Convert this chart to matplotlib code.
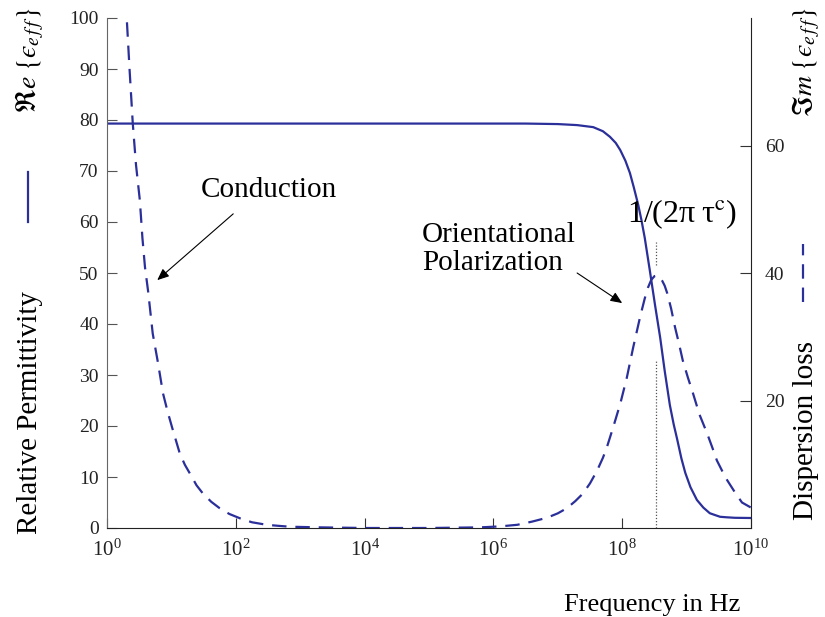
import numpy as np
import matplotlib
matplotlib.use("Agg")
import matplotlib.pyplot as plt
from matplotlib.ticker import FixedLocator, LogFormatterSciNotation, NullLocator

# ---- data (frequency as log10 exponent) ----
real_exp = [0.0, 6.5, 7.0, 7.3, 7.55, 7.7, 7.81, 7.9, 7.97, 8.05, 8.12, 8.18,
            8.25, 8.30, 8.35, 8.43, 8.51, 8.59, 8.66, 8.74, 8.80, 8.85, 8.92,
            8.98, 9.06, 9.16, 9.26, 9.36, 9.45, 9.52, 9.62, 9.75, 10.0]
real_val = [79.3, 79.3, 79.2, 79.0, 78.6, 77.8, 76.7, 75.5, 74.1, 72.0, 69.6,
            66.8, 63.3, 60.3, 56.9, 50.4, 43.7, 37.3, 30.8, 24.1, 20.3, 17.6,
            13.6, 10.8, 8.0, 5.5, 4.0, 2.9, 2.5, 2.2, 2.1, 2.0, 1.96]

loss_exp = [0.25, 0.31, 0.35, 0.40, 0.45, 0.51, 0.55, 0.59, 0.64, 0.71, 0.79,
            0.87, 0.94, 1.01, 1.13, 1.21, 1.29, 1.39, 1.49, 1.62, 1.75, 1.90,
            2.07, 2.25, 2.48, 2.65, 2.84, 3.3, 4.0, 5.0, 5.8, 6.1, 6.37, 6.6,
            6.83, 7.0, 7.14, 7.27, 7.39, 7.5, 7.61, 7.70, 7.76, 7.86, 7.97,
            8.07, 8.17, 8.28, 8.35, 8.40, 8.45, 8.50, 8.54, 8.58, 8.62, 8.66,
            8.70, 8.76, 8.82, 8.88, 8.94, 9.02, 9.10, 9.20, 9.32, 9.40, 9.47,
            9.55, 9.63, 9.75, 9.86, 10.0]
loss_val = [90.0, 79.3, 72.0, 63.5, 57.0, 51.4, 45.5, 40.9, 37.0, 30.5, 26.0,
            21.1, 18.3, 15.8, 11.7, 9.9, 8.5, 6.7, 5.4, 4.1, 3.1, 2.2,
            1.5, 0.9, 0.5, 0.35, 0.2, 0.1, 0.0, 0.0, 0.1, 0.25, 0.5, 1.0,
            1.6, 2.3, 3.1, 4.2, 5.4, 7.0, 9.0, 11.0, 12.6, 15.8, 19.5,
            23.5, 28.3, 33.2, 36.0, 37.7, 38.9, 39.5, 39.6, 39.4, 38.8, 38.0,
            36.8, 34.4, 31.5, 29.0, 26.3, 23.6, 21.1, 17.8, 14.8, 12.6, 10.6,
            9.0, 7.5, 5.6, 4.0, 3.2]

left_ticks = [0, 10, 20, 30, 40, 50, 60, 70, 80, 90, 100]
right_ticks = [20, 40, 60]
x_tick_exp = [0, 2, 4, 6, 8, 10]
relax_exp = 8.53

plt.rcParams['font.family'] = ['Liberation Serif', 'DejaVu Serif']
plt.rcParams['mathtext.fontset'] = 'stix'

W, H = 825, 617
fig = plt.figure(figsize=(W / 100, H / 100), dpi=100)
ax = fig.add_axes([107 / W, 1 - 528 / H, (751 - 107) / W, (528 - 18) / H])
ax2 = ax.twinx()

col = '#2b2f99'
dash = (6.5, 4.0)
xr = 10.0 ** np.array(real_exp)
xl = 10.0 ** np.array(loss_exp)
ax.plot(xr, real_val, color=col, lw=1.6)
ax2.plot(xl, loss_val, color=col, lw=1.6, dashes=dash)

ax.set_xscale('log')
ax.set_xlim(1, 1e10)
ax.set_ylim(0, 100)
ax2.set_ylim(0, 80)

ax.xaxis.set_major_locator(FixedLocator([10.0 ** e for e in x_tick_exp]))
ax.xaxis.set_major_formatter(LogFormatterSciNotation())
ax.xaxis.set_minor_locator(NullLocator())
ax.set_yticks(left_ticks)
ax2.set_yticks(right_ticks)

for a in (ax, ax2):
    a.spines['top'].set_visible(False)
ax.spines['left'].set_color('#666666')
ax2.spines['left'].set_visible(False)
ax.spines['right'].set_visible(False)
ax2.spines['right'].set_color('#222222')
ax2.spines['bottom'].set_visible(False)
ax.spines['bottom'].set_color('#222222')

ax.tick_params(axis='y', direction='in', length=7, labelsize=14, colors='#555555',
               labelcolor='#222222', pad=6)
ax.tick_params(axis='x', direction='in', length=7, labelsize=15, colors='#333333',
               labelcolor='#222222', pad=8)
ax2.tick_params(axis='y', direction='in', length=8, labelsize=14, colors='#333333',
                labelcolor='#222222', pad=10)

# dotted marker at relaxation frequency
xv = 10 ** relax_exp
ax.plot([xv, xv], [51.6, 56.0], color='#555555', lw=0.9, ls=(0, (1, 1.5)))
ax.plot([xv, xv], [0, 32.9], color='#555555', lw=0.9, ls=(0, (1, 1.5)))

fs = 21
ax.text(10 ** 8.93, 61.6, '1/(2π\u2009τ$^{\\mathrm{c}}$)', fontsize=23,
        ha='center', va='center')
ax.text(10 ** 2.52, 66.3, 'Conduction', fontsize=fs, ha='center', va='center')
ax.text(10 ** 4.89, 54.7, 'Orientational\nPolarization', fontsize=fs,
        ha='left', va='center', linespacing=1.08)
arrow = dict(arrowstyle='-|>,head_length=0.7,head_width=0.3', color='black',
             lw=0.8, shrinkA=0, shrinkB=0)
ax.annotate('', xy=(10 ** 0.78, 48.6), xytext=(10 ** 1.96, 61.6),
            arrowprops=arrow)
ax.annotate('', xy=(10 ** 8.0, 44.1), xytext=(10 ** 7.30, 50.0),
            arrowprops=arrow)

# outside labels (left)
fig.text(30 / W, 1 - 412 / H, 'Relative Permittivity', rotation=90, fontsize=fs,
         ha='center', va='center')
fig.text(30 / W, 1 - 60 / H, '$\\Re e\\;\\{\u03f5_{e\\,f\\,f}\\}$', rotation=90,
         fontsize=fs - 1, ha='center', va='center')
fig.add_artist(plt.Line2D([28 / W, 28 / W], [1 - 222 / H, 1 - 172 / H],
                          color=col, lw=1.6))
# outside labels (right)
fig.text(806 / W, 1 - 430 / H, 'Dispersion loss', rotation=90, fontsize=fs,
         ha='center', va='center')
fig.text(806 / W, 1 - 62 / H, '$\\Im m\\;\\{\u03f5_{e\\,f\\,f}\\}$', rotation=90,
         fontsize=fs - 1, ha='center', va='center')
fig.add_artist(plt.Line2D([803 / W, 803 / W], [1 - 302 / H, 1 - 244 / H],
                          color=col, lw=1.6, dashes=dash))

fig.text(652 / W, 1 - 605 / H, 'Frequency in Hz', fontsize=19, ha='center',
         va='center')

fig.savefig('out.png', dpi=100)
